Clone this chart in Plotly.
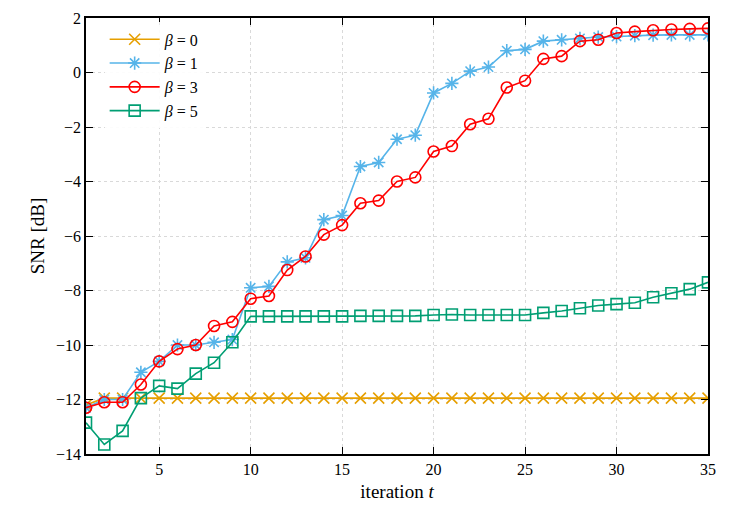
import plotly.graph_objects as go

# ── Data ─────────────────────────────────────────────────────────────────────
t = list(range(1, 36))

snr_b0 = [-12.2] + [-11.95] * 34
snr_b1 = [-12.3, -12.0, -12.0, -11.0, -10.6, -10.0, -10.0, -9.9, -9.8, -7.9,
          -7.85, -6.95, -6.8, -5.4, -5.25, -3.45, -3.3, -2.45, -2.3, -0.75,
          -0.4, 0.05, 0.2, 0.8, 0.85, 1.15, 1.2, 1.25, 1.3, 1.32,
          1.35, 1.37, 1.38, 1.38, 1.38]
snr_b3 = [-12.3, -12.1, -12.1, -11.45, -10.6, -10.15, -10.0, -9.3, -9.15, -8.3,
          -8.2, -7.25, -6.75, -5.95, -5.6, -4.8, -4.7, -4.0, -3.85, -2.9,
          -2.7, -1.9, -1.7, -0.55, -0.3, 0.5, 0.6, 1.15, 1.2, 1.45,
          1.5, 1.55, 1.58, 1.6, 1.62]
snr_b5 = [-12.85, -13.65, -13.15, -11.95, -11.5, -11.6, -11.05, -10.65, -9.9, -8.95,
          -8.95, -8.95, -8.95, -8.95, -8.95, -8.93, -8.93, -8.93, -8.93, -8.9,
          -8.88, -8.9, -8.9, -8.9, -8.9, -8.82, -8.75, -8.65, -8.55, -8.5,
          -8.45, -8.25, -8.1, -7.95, -7.7]

series = [
    ("<i>β</i> = 0", snr_b0, "#E69F00", "x-thin-open"),
    ("<i>β</i> = 1", snr_b1, "#56B4E9", "asterisk-open"),
    ("<i>β</i> = 3", snr_b3, "#FF0000", "circle-open"),
    ("<i>β</i> = 5", snr_b5, "#009E73", "square-open"),
]

fig = go.Figure()
for name, ys, col, sym in series:
    fig.add_trace(go.Scatter(
        x=t, y=ys, name=name, mode="lines+markers",
        line=dict(color=col, width=1.6),
        marker=dict(symbol=sym, size=11, color=col, line=dict(color=col, width=1.6)),
    ))

grid = dict(showgrid=True, gridcolor="#d9d9d9", griddash="dot", gridwidth=1,
            showline=True, linecolor="black", linewidth=1.5, mirror="ticks",
            ticks="inside", ticklen=7, tickcolor="black", zeroline=False,
            automargin=False)

fig.update_layout(
    width=747, height=512,
    margin=dict(l=78, r=47, t=10, b=66),
    paper_bgcolor="white", plot_bgcolor="white",
    font=dict(family="Liberation Serif", size=16, color="black"),
    xaxis=dict(range=[1, 35], tickvals=[5, 10, 15, 20, 25, 30, 35],
               title=dict(text="iteration <i>t</i>", standoff=8), **grid),
    yaxis=dict(range=[-14, 2], dtick=2, tickformat="d",
               title=dict(text="SNR [dB]", standoff=6), **grid),
    legend=dict(x=0.03, y=0.99, xanchor="left", yanchor="top",
                bgcolor="rgba(255,255,255,0.9)", font=dict(size=16),
                itemwidth=50, tracegroupgap=4),
)

fig.write_html("out.html")
